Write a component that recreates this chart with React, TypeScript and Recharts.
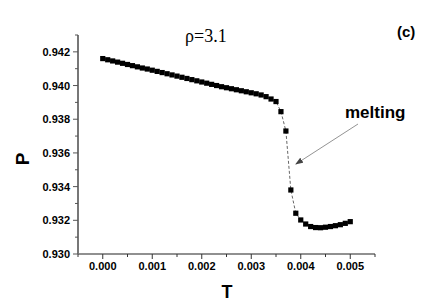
import React from 'react';
import { LineChart, Line, XAxis, YAxis, Customized } from 'recharts';

// temperature T and pressure P
const tValues = [
  0.0, 0.0001, 0.0002, 0.0003, 0.0004, 0.0005, 0.0006, 0.0007, 0.0008, 0.0009,
  0.001, 0.0011, 0.0012, 0.0013, 0.0014, 0.0015, 0.0016, 0.0017, 0.0018, 0.0019,
  0.002, 0.0021, 0.0022, 0.0023, 0.0024, 0.0025, 0.0026, 0.0027, 0.0028, 0.0029,
  0.003, 0.0031, 0.0032, 0.0033, 0.0034, 0.0035, 0.0036, 0.0037, 0.0038, 0.0039,
  0.004, 0.0041, 0.0042, 0.0043, 0.0044, 0.0045, 0.0046, 0.0047, 0.0048, 0.0049,
  0.005,
];
const pValues = [
  0.9416, 0.94153, 0.94146, 0.94139, 0.94132, 0.94125, 0.94118, 0.94111, 0.94104, 0.94098,
  0.94091, 0.94084, 0.94077, 0.9407, 0.94063, 0.94056, 0.94049, 0.94042, 0.94035, 0.94028,
  0.94021, 0.94014, 0.94007, 0.94, 0.93993, 0.93987, 0.93981, 0.93975, 0.93969, 0.93963,
  0.93957, 0.93951, 0.93944, 0.93934, 0.9392, 0.93905, 0.93845, 0.9373, 0.9338, 0.93242,
  0.93202, 0.93178, 0.93163, 0.93157, 0.93156, 0.93159, 0.93163, 0.93168, 0.93174, 0.93182,
  0.93192,
];

const xMajorTicks = [0, 0.001, 0.002, 0.003, 0.004, 0.005];
const xAllTicks = [-0.0005, 0, 0.0005, 0.001, 0.0015, 0.002, 0.0025, 0.003, 0.0035, 0.004, 0.0045, 0.005, 0.0055];
const yMajorTicks = [0.93, 0.932, 0.934, 0.936, 0.938, 0.94, 0.942];
const yAllTicks = [0.93, 0.931, 0.932, 0.933, 0.934, 0.935, 0.936, 0.937, 0.938, 0.939, 0.94, 0.941, 0.942, 0.943];

const data = tValues.map((t, i) => ({ T: t, P: pValues[i] }));

const SANS = '"Liberation Sans", Arial, sans-serif';

const isMajor = (list: number[], v: number) => list.some((m) => Math.abs(m - v) < 1e-9);

const XTick = (props: any) => {
  const { x, y, payload } = props;
  const major = isMajor(xMajorTicks, payload.value);
  return (
    <g>
      <line x1={x} y1={y} x2={x} y2={y + (major ? 5 : 3)} stroke="#333" strokeWidth={1} />
      {major && (
        <text x={x} y={y + 16} textAnchor="middle" fontFamily={SANS} fontWeight="bold" fontSize={11} fill="#000">
          {payload.value.toFixed(3)}
        </text>
      )}
    </g>
  );
};

const YTick = (props: any) => {
  const { x, y, payload } = props;
  const major = isMajor(yMajorTicks, payload.value);
  return (
    <g>
      <line x1={x} y1={y} x2={x - (major ? 5 : 3)} y2={y} stroke="#555" strokeWidth={1} />
      {major && (
        <text x={x - 8} y={y + 4} textAnchor="end" fontFamily={SANS} fontWeight="bold" fontSize={11} fill="#000">
          {payload.value.toFixed(3)}
        </text>
      )}
    </g>
  );
};

const SquareDot = (props: any) => {
  const { cx, cy, index } = props;
  return <rect key={index} x={cx - 2.6} y={cy - 2.6} width={5.2} height={5.2} fill="#000" />;
};

const Annotations = () => (
  <g>
    <defs>
      <marker id="arrowHead" markerWidth="8" markerHeight="6" refX="7" refY="3" orient="auto" markerUnits="userSpaceOnUse">
        <path d="M0,0 L8,3 L0,6 z" fill="#444" />
      </marker>
    </defs>
    <text x={185} y={42} fontFamily='"Liberation Serif", "Times New Roman", serif' fontSize={18} fill="#000">
      ρ=3.1
    </text>
    <text x={397} y={37} fontFamily={SANS} fontWeight="bold" fontSize={15} fill="#000">
      (c)
    </text>
    <text x={345} y={118} fontFamily={SANS} fontWeight="bold" fontSize={17} fill="#000">
      melting
    </text>
    <line x1={358} y1={124} x2={296} y2={164} stroke="#777" strokeWidth={0.8} markerEnd="url(#arrowHead)" />
    <text x={22} y={159} transform="rotate(-90 22 159)" textAnchor="middle" dominantBaseline="central"
      fontFamily={SANS} fontWeight="bold" fontSize={19} fill="#000">
      P
    </text>
    <text x={227} y={298} textAnchor="middle" fontFamily={SANS} fontWeight="bold" fontSize={18} fill="#000">
      T
    </text>
  </g>
);

export default function App() {
  return (
    <div style={{ width: 436, height: 305, background: '#fff' }}>
      <style>{`body{margin:0;background:#fff}`}</style>
      <LineChart width={436} height={305} data={data} margin={{ top: 35, right: 61, bottom: 0, left: 0 }}>
        <XAxis
          dataKey="T"
          type="number"
          domain={[-0.0005, 0.0055]}
          ticks={xAllTicks}
          interval={0}
          tick={<XTick />}
          tickLine={false}
          tickSize={0}
          tickMargin={0}
          height={51}
          axisLine={{ stroke: '#222', strokeWidth: 1.2 }}
          allowDataOverflow
        />
        <YAxis
          dataKey="P"
          type="number"
          domain={[0.93, 0.943]}
          ticks={yAllTicks}
          interval={0}
          tick={<YTick />}
          tickLine={false}
          tickSize={0}
          tickMargin={0}
          width={78}
          axisLine={{ stroke: '#777', strokeWidth: 2 }}
          allowDataOverflow
        />
        <Line
          type="linear"
          dataKey="P"
          stroke="#666"
          strokeWidth={1}
          strokeDasharray="3 2"
          dot={<SquareDot />}
          activeDot={false}
          isAnimationActive={false}
        />
        <Customized component={Annotations} />
      </LineChart>
    </div>
  );
}
